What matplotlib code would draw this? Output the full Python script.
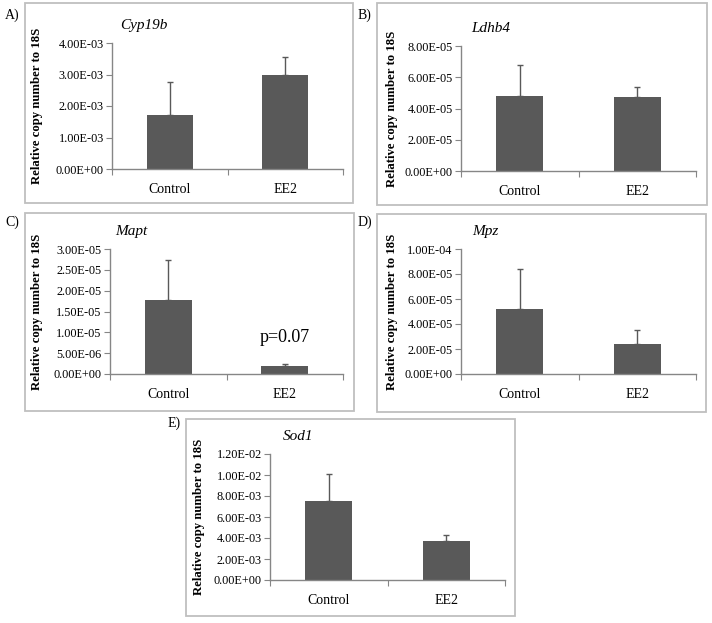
import matplotlib
matplotlib.use("Agg")
import matplotlib.pyplot as plt
from matplotlib.patches import Rectangle
from matplotlib.ticker import FormatStrFormatter, FixedLocator

plt.rcParams['font.family'] = ['Liberation Serif', 'DejaVu Serif']

categories = ["Control", "EE2"]
genes = ["Cyp19b", "Ldhb4", "Mapt", "Mpz", "Sod1"]
panel_labels = ["A)", "B)", "C)", "D)", "E)"]

cyp19b_mean = [1.70e-3, 2.98e-3]
cyp19b_err = [1.05e-3, 0.57e-3]
ldhb4_mean = [4.80e-5, 4.76e-5]
ldhb4_err = [1.98e-5, 0.62e-5]
mapt_mean = [1.77e-5, 1.9e-6]
mapt_err = [0.96e-5, 0.5e-6]
mpz_mean = [5.2e-5, 2.4e-5]
mpz_err = [3.2e-5, 1.15e-5]
sod1_mean = [7.52e-3, 3.75e-3]
sod1_err = [2.53e-3, 0.54e-3]

cyp19b_ticks = [0, 1e-3, 2e-3, 3e-3, 4e-3]
ldhb4_ticks = [0, 2e-5, 4e-5, 6e-5, 8e-5]
mapt_ticks = [0, 5e-6, 1e-5, 1.5e-5, 2e-5, 2.5e-5, 3e-5]
mpz_ticks = [0, 2e-5, 4e-5, 6e-5, 8e-5, 1e-4]
sod1_ticks = [0, 2e-3, 4e-3, 6e-3, 8e-3, 1e-2, 1.2e-2]

means = [cyp19b_mean, ldhb4_mean, mapt_mean, mpz_mean, sod1_mean]
errs = [cyp19b_err, ldhb4_err, mapt_err, mpz_err, sod1_err]
ticks = [cyp19b_ticks, ldhb4_ticks, mapt_ticks, mpz_ticks, sod1_ticks]

W, H = 712, 623
fig = plt.figure(figsize=(W / 100, H / 100), dpi=100)
fig.patch.set_facecolor("white")

# layout in pixels
boxes = [(25, 3, 353, 203), (377, 3, 707, 205), (25, 213, 354, 411),
         (377, 214, 706, 412), (186, 419, 515, 616)]
axes_px = [(112, 43, 343, 169), (461, 46, 696, 171), (110, 249, 343, 374),
           (461, 249, 696, 374), (270, 454, 505, 580)]
label_px = [(5, 15), (358, 15), (5, 222), (358, 222), (168, 423)]
title_off = [8, 10, 5, 11, 13]
ylabel_x = [43, 398, 43, 398, 205]

bar_color = "#595959"
spine_color = "#868686"

for i in range(5):
    x0, y0, x1, y1 = boxes[i]
    fig.patches.append(Rectangle((x0 / W, 1 - y1 / H), (x1 - x0) / W, (y1 - y0) / H,
                                 transform=fig.transFigure, fill=False,
                                 edgecolor="#bfbfbf", linewidth=1.3))
    lx, ly = label_px[i]
    fig.text(lx / W, 1 - ly / H, panel_labels[i], fontsize=10, va="center", ha="left")

    ax0, ay0, ax1, ay1 = axes_px[i]
    ax = fig.add_axes([ax0 / W, 1 - ay1 / H, (ax1 - ax0) / W, (ay1 - ay0) / H])
    ax.set_facecolor("none")
    xs = [0.5, 1.5]
    ax.bar(xs, means[i], width=0.4, color=bar_color, zorder=2)
    ax.errorbar(xs, means[i], yerr=[[0, 0], errs[i]], fmt="none",
                ecolor=bar_color, elinewidth=1, capsize=2.5, capthick=1, zorder=3)
    ax.set_xlim(0, 2)
    ax.set_ylim(0, ticks[i][-1])
    ax.set_yticks(ticks[i])
    ax.yaxis.set_major_formatter(FormatStrFormatter("%.2E"))
    ax.xaxis.set_major_locator(FixedLocator([0, 1, 2]))
    ax.set_xticklabels([])
    ax.set_xticks(xs, minor=True)
    ax.set_xticklabels(categories, minor=True, fontsize=10)
    ax.tick_params(axis="x", which="minor", length=0, pad=10)
    ax.tick_params(axis="x", which="major", length=4, color=spine_color, direction="out")
    ax.tick_params(axis="y", length=4, color=spine_color, labelsize=8.8, pad=2)
    for s in ["top", "right"]:
        ax.spines[s].set_visible(False)
    for s in ["left", "bottom"]:
        ax.spines[s].set_color(spine_color)
        ax.spines[s].set_linewidth(1)
    ax.set_ylabel("Relative copy number to 18S", fontsize=9.2, fontweight="bold")
    ax.yaxis.set_label_coords((ylabel_x[i] - ax0) / (ax1 - ax0), 0.5)
    ax.text(title_off[i] / (ax1 - ax0), 1 + 18 / (ay1 - ay0), genes[i],
            transform=ax.transAxes, fontsize=11, style="italic", va="center", ha="left")
    if i == 2:
        ax.text(1.5, (374 - 337) / (374 - 249) * ticks[i][-1], "p=0.07",
                fontsize=13, ha="center", va="center")

fig.savefig("out.png", dpi=100, facecolor="white")
